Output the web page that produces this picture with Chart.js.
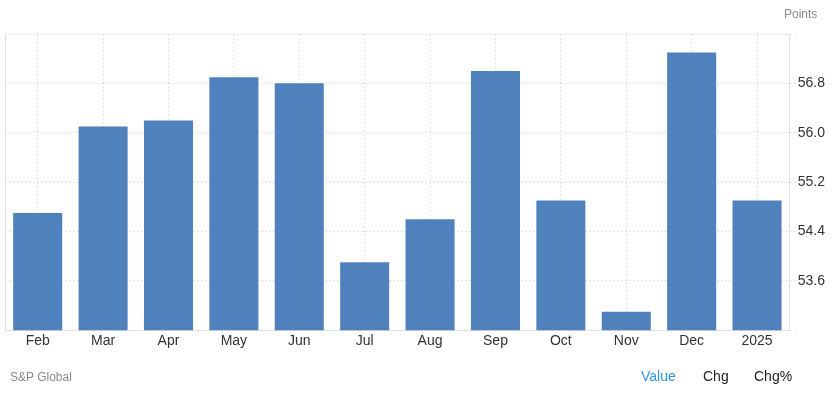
<!DOCTYPE html>
<html>
<head>
<meta charset="utf-8">
<script src="https://cdn.jsdelivr.net/npm/chart.js@4.4.1/dist/chart.umd.min.js"></script>
<style>
  html, body { margin: 0; padding: 0; background: #fff; }
  #wrap { position: relative; width: 835px; height: 393px; overflow: hidden; font-family: "Liberation Sans", Arial, sans-serif; }
  #c { position: absolute; left: 0; top: 0; }
  .t { position: absolute; white-space: nowrap; line-height: 1; }
</style>
</head>
<body>
<div id="wrap">
  <canvas id="c" width="835" height="393"></canvas>
  <div class="t" style="left:784px;top:8px;font-size:12px;color:#8a8a8a;">Points</div>
  <div class="t" style="left:10px;top:371px;font-size:12px;color:#8a8a8a;">S&amp;P Global</div>
  <div class="t" style="left:641px;top:369px;font-size:14px;color:#2f94ec;">Value</div>
  <div class="t" style="left:703px;top:369px;font-size:14px;color:#222;">Chg</div>
  <div class="t" style="left:754px;top:369px;font-size:14px;color:#222;">Chg%</div>
</div>
<script>
const categories = ["Feb", "Mar", "Apr", "May", "Jun", "Jul", "Aug", "Sep", "Oct", "Nov", "Dec", "2025"];
const values = [54.7, 56.1, 56.2, 56.9, 56.8, 53.9, 54.6, 57.0, 54.9, 53.1, 57.3, 54.9];
const yMin = 52.8;
const yMax = 57.6;
const yStep = 0.8;
const shownTicks = [53.6, 54.4, 55.2, 56.0, 56.8];

const font = { family: '"Liberation Sans", Arial, sans-serif', size: 14 };

new Chart(document.getElementById('c'), {
  type: 'bar',
  data: {
    labels: categories,
    datasets: [{
      data: values,
      backgroundColor: '#4f81bd',
      borderWidth: 0,
      barPercentage: 0.75,
      categoryPercentage: 1.0
    }]
  },
  options: {
    responsive: false,
    animation: false,
    layout: { padding: { top: 34, left: 5, right: 10, bottom: 40 } },
    plugins: { legend: { display: false }, tooltip: { enabled: false } },
    scales: {
      x: {
        offset: true,
        grid: {
          offset: false,
          color: '#e0e0e0',
          drawTicks: false
        },
        border: { display: true, color: '#e0e0e0', width: 1, dash: [2, 2] },
        ticks: { color: '#333', font: font, padding: 3, maxRotation: 0 }
      },
      y: {
        position: 'right',
        min: yMin,
        max: yMax,
        grid: {
          color: '#e0e0e0',
          tickLength: 8,
          tickBorderDash: [2, 2]
        },
        border: { display: true, color: '#e0e0e0', width: 1, dash: [2, 2] },
        ticks: {
          stepSize: yStep,
          color: '#333',
          font: font,
          padding: 0,
          callback: function (v) {
            const r = Math.round(v * 10) / 10;
            return shownTicks.some(t => Math.abs(t - r) < 1e-6) ? r.toFixed(1) : '';
          }
        }
      },
      yl: {
        position: 'left',
        display: true,
        min: yMin,
        max: yMax,
        grid: { display: false, drawTicks: false },
        border: { display: true, color: '#e0e0e0', width: 1 },
        ticks: { display: false }
      }
    }
  }
});
</script>
</body>
</html>
